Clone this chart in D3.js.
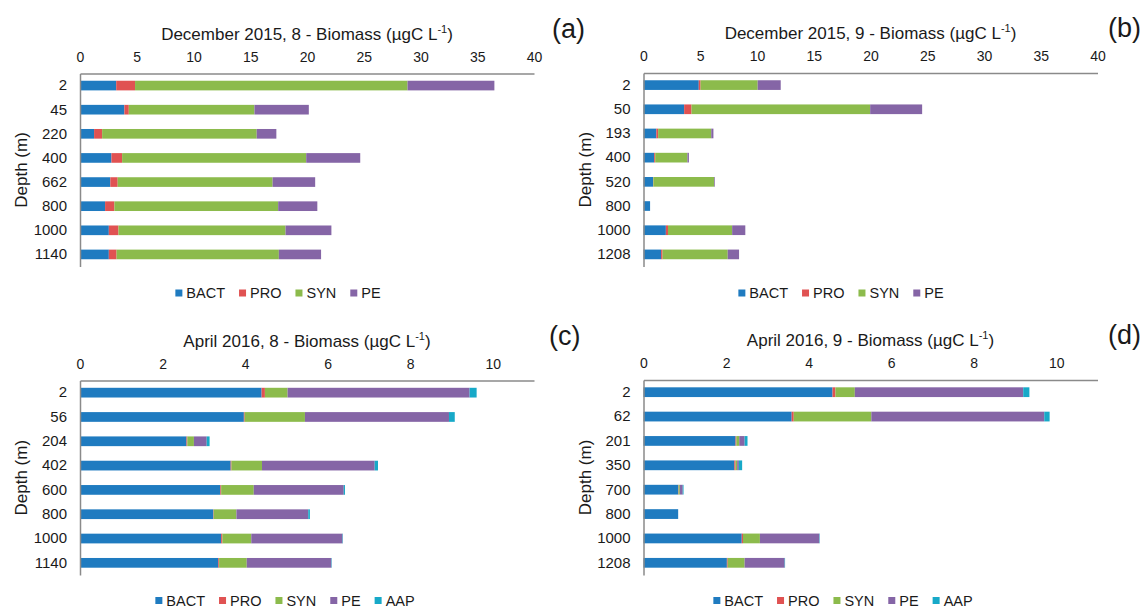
<!DOCTYPE html>
<html>
<head>
<meta charset="utf-8">
<title>Biomass profiles</title>
<script src="https://cdn.jsdelivr.net/npm/d3@7"></script>
<style>
  body { margin: 0; background: #fff; }
  svg text { font-family: "Liberation Sans", Arial, sans-serif; fill: #1a1a1a; }
</style>
</head>
<body>
<div id="chart"></div>
<script>
// groups and colours
var groups = ["BACT", "PRO", "SYN", "PE", "AAP"];
var colors = ["#1f7bc0", "#e05252", "#8cbb4c", "#8565a6", "#17a9c8"];

// (a) December 2015, station 8
var depthsA = ["2", "45", "220", "400", "662", "800", "1000", "1140"];
var bactA = [3.19, 3.91, 1.24, 2.77, 2.67, 2.21, 2.54, 2.54];
var proA  = [1.66, 0.39, 0.71, 0.94, 0.65, 0.82, 0.85, 0.68];
var synA  = [24.01, 11.07, 13.62, 16.22, 13.65, 14.43, 14.72, 14.30];
var peA   = [7.65, 4.79, 1.73, 4.76, 3.75, 3.45, 4.04, 3.72];

// (b) December 2015, station 9
var depthsB = ["2", "50", "193", "400", "520", "800", "1000", "1208"];
var bactB = [4.87, 3.58, 1.13, 0.94, 0.84, 0.58, 1.97, 1.55];
var proB  = [0.16, 0.65, 0.16, 0.09, 0.03, 0, 0.19, 0.13];
var synB  = [5.03, 15.74, 4.68, 2.84, 5.36, 0, 5.65, 5.74];
var peB   = [2.03, 4.58, 0.19, 0.13, 0.06, 0, 1.16, 1.00];

// (c) April 2016, station 8
var depthsC = ["2", "56", "204", "402", "600", "800", "1000", "1140"];
var bactC = [4.40, 3.97, 2.58, 3.65, 3.40, 3.23, 3.42, 3.35];
var proC  = [0.08, 0.02, 0.02, 0.02, 0.02, 0.01, 0.03, 0.02];
var synC  = [0.55, 1.46, 0.16, 0.74, 0.79, 0.55, 0.70, 0.67];
var peC   = [4.41, 3.49, 0.31, 2.73, 2.18, 1.74, 2.21, 2.05];
var aapC  = [0.17, 0.14, 0.07, 0.08, 0.03, 0.04, 0.01, 0.01];

// (d) April 2016, station 9
var depthsD = ["2", "62", "201", "350", "700", "800", "1000", "1208"];
var bactD = [4.58, 3.59, 2.23, 2.20, 0.84, 0.84, 2.38, 2.02];
var proD  = [0.07, 0.05, 0.02, 0.03, 0.01, 0, 0.03, 0.02];
var synD  = [0.47, 1.88, 0.07, 0.04, 0.03, 0, 0.41, 0.41];
var peD   = [4.08, 4.19, 0.13, 0.04, 0.07, 0, 1.44, 0.97];
var aapD  = [0.15, 0.13, 0.07, 0.08, 0.02, 0, 0.01, 0.01];

var ticks40 = [0, 5, 10, 15, 20, 25, 30, 35, 40];
var ticks10 = [0, 2, 4, 6, 8, 10];

var panels = [
  { title: "December 2015, 8 - Biomass (\u00b5gC L", tag: "(a)", depths: depthsA,
    series: [bactA, proA, synA, peA], max: 40, ticks: ticks40,
    x0: 80, x1: 534, y0: 73.5, y1: 266.5, legendX: 278, legendY: 293, tagX: 552 },
  { title: "December 2015, 9 - Biomass (\u00b5gC L", tag: "(b)", depths: depthsB,
    series: [bactB, proB, synB, peB], max: 40, ticks: ticks40,
    x0: 643.5, x1: 1097.5, y0: 73, y1: 266.5, legendX: 841, legendY: 293, tagX: 1108 },
  { title: "April 2016, 8 - Biomass (\u00b5gC L", tag: "(c)", depths: depthsC,
    series: [bactC, proC, synC, peC, aapC], max: 11, ticks: ticks10,
    x0: 80, x1: 534, y0: 380.5, y1: 575, legendX: 285, legendY: 600.5, tagX: 549 },
  { title: "April 2016, 9 - Biomass (\u00b5gC L", tag: "(d)", depths: depthsD,
    series: [bactD, proD, synD, peD, aapD], max: 11, ticks: ticks10,
    x0: 643.5, x1: 1097.5, y0: 380, y1: 575, legendX: 843, legendY: 600.5, tagX: 1108 }
];

var svg = d3.select("#chart").append("svg")
  .attr("width", 1144)
  .attr("height", 608);

panels.forEach(function(p) {
  var g = svg.append("g");

  var x = d3.scaleLinear().domain([0, p.max]).range([p.x0, p.x1]);
  var y = d3.scaleBand().domain(p.depths).range([p.y0, p.y1])
    .paddingInner(0.6).paddingOuter(0.3);

  // build rows for stacking
  var keys = groups.slice(0, p.series.length);
  var rows = p.depths.map(function(d, i) {
    var r = { depth: d };
    keys.forEach(function(k, j) { r[k] = p.series[j][i]; });
    return r;
  });
  var stacked = d3.stack().keys(keys)(rows);

  g.selectAll("g.layer")
    .data(stacked)
    .enter()
    .append("g")
    .attr("class", "layer")
    .attr("fill", function(d, i) { return colors[i]; })
    .selectAll("rect")
    .data(function(d) { return d; })
    .enter()
    .append("rect")
    .attr("x", function(d) { return x(d[0]); })
    .attr("y", function(d) { return y(d.data.depth); })
    .attr("width", function(d) { return Math.max(0, x(d[1]) - x(d[0])); })
    .attr("height", y.bandwidth());

  // top axis
  var xa = g.append("g")
    .attr("transform", "translate(0," + p.y0 + ")")
    .call(d3.axisTop(x).tickValues(p.ticks).tickSize(0).tickPadding(12));
  xa.select(".domain").attr("stroke", "#8a8a8a").attr("stroke-width", 1.5);
  xa.selectAll("text").attr("font-size", 14).style("fill", "#1a1a1a");

  // left axis
  var ya = g.append("g")
    .attr("transform", "translate(" + p.x0 + ",0)")
    .call(d3.axisLeft(y).tickSize(0).tickPadding(13));
  ya.select(".domain").attr("stroke", "#8a8a8a").attr("stroke-width", 1.5);
  ya.selectAll("text").attr("font-size", 15).style("fill", "#1a1a1a");

  // title with superscript
  var t = g.append("text")
    .attr("x", (p.x0 + p.x1) / 2)
    .attr("y", p.y0 - 34)
    .attr("text-anchor", "middle")
    .attr("font-size", 17)
    .text(p.title);
  t.append("tspan").attr("font-size", 11).attr("dy", -7).text("-1");
  t.append("tspan").attr("dy", 7).text(")");

  // panel tag
  g.append("text")
    .attr("x", p.tagX)
    .attr("y", p.y0 - 36)
    .attr("font-size", 27)
    .text(p.tag);

  // y title
  g.append("text")
    .attr("transform", "translate(" + (p.x0 - 53) + "," + ((p.y0 + p.y1) / 2) + ") rotate(-90)")
    .attr("text-anchor", "middle")
    .attr("font-size", 17)
    .text("Depth (m)");

  // legend
  var lg = g.append("g");
  var cx = 0;
  keys.forEach(function(k, i) {
    var it = lg.append("g");
    it.append("rect").attr("x", 0).attr("y", -3.5).attr("width", 7).attr("height", 7)
      .attr("fill", colors[i]);
    var tx = it.append("text").attr("x", 11).attr("y", 5).attr("font-size", 14.5).text(k);
    var w = 11 + tx.node().getComputedTextLength();
    it.attr("transform", "translate(" + cx + ",0)");
    cx += w + 14;
  });
  var total = cx - 14;
  lg.attr("transform", "translate(" + (p.legendX - total / 2) + "," + p.legendY + ")");
});
</script>
</body>
</html>
